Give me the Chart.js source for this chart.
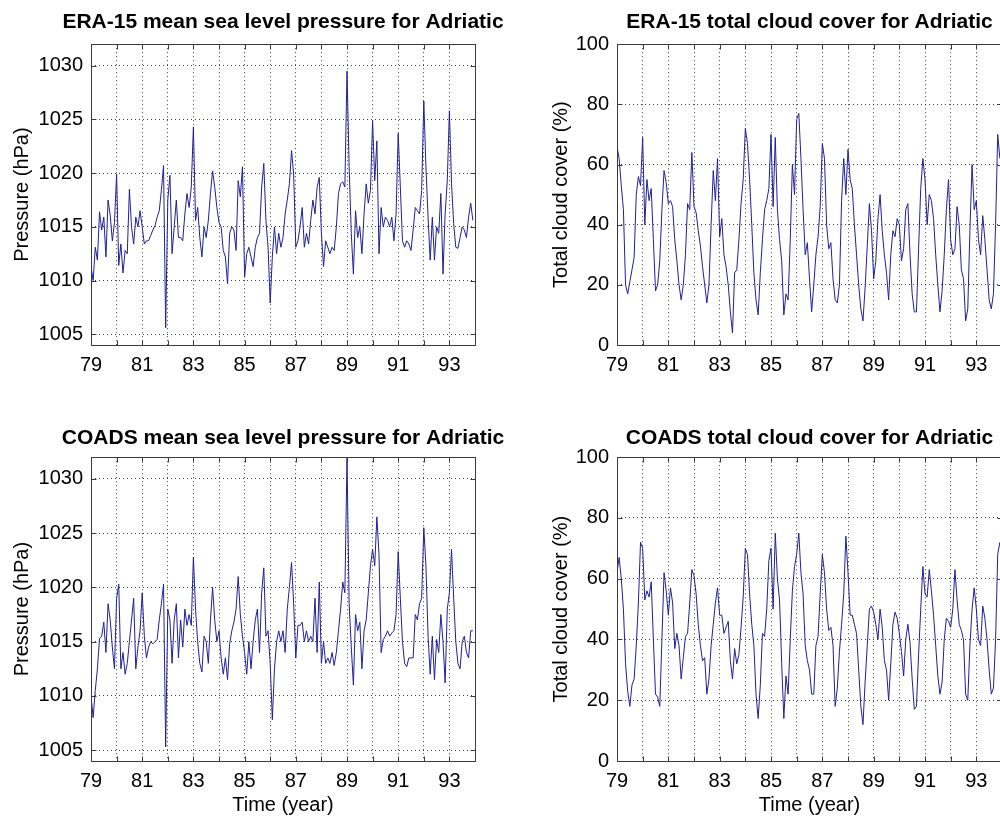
<!DOCTYPE html>
<html>
<head>
<meta charset="utf-8">
<title>Adriatic - ERA-15 / COADS</title>
<script src="https://cdn.jsdelivr.net/npm/chart.js@4.4.0/dist/chart.umd.min.js"></script>
<style>
    html, body { margin: 0; padding: 0; background: #fff; }
    body { width: 1000px; height: 821px; position: relative; overflow: hidden; }
    canvas { position: absolute; }
    #eraSlp { left: 0; top: 0; }
    #eraTcc { left: 520px; top: 0; }
    #coadsSlp { left: 0; top: 400px; }
    #coadsTcc { left: 520px; top: 400px; }
</style>
</head>
<body>
<canvas id="eraSlp" width="566" height="400"></canvas>
<canvas id="eraTcc" width="579" height="400"></canvas>
<canvas id="coadsSlp" width="566" height="421"></canvas>
<canvas id="coadsTcc" width="579" height="421"></canvas>
<script>
// monthly means, Jan 1979 .. Dec 1993
const firstYear = 79;
const monthsPerYear = 12;

const yearTicks = [79, 80, 81, 82, 83, 84, 85, 86, 87, 88, 89, 90, 91, 92, 93, 94];
const yearLabels = ['79', '81', '83', '85', '87', '89', '91', '93'];
const pressureTicks = [1005, 1010, 1015, 1020, 1025, 1030];
const cloudTicks = [0, 20, 40, 60, 80, 100];

// ERA-15 mean sea level pressure (hPa)
const eraPressure = [
    1011.3, 1010, 1013.1, 1011.9, 1016.4, 1014.7, 1015.9, 1012.2, 1017.5, 1016.1, 1013.7, 1015.4,
    1019.9, 1011.4, 1013.4, 1010.7, 1012.8, 1012.5, 1018.5, 1015, 1013.4, 1015.9, 1015, 1016.5,
    1015, 1013.4, 1013.7, 1013.7, 1014.2, 1014.7, 1015.1, 1015.9, 1016.5, 1018.4, 1020.7, 1005.6,
    1017.5, 1019.8, 1012.5, 1015, 1017.5, 1014, 1014, 1013.7, 1016.2, 1018.1, 1016.8, 1018.7,
    1024.3, 1015.6, 1016.8, 1014, 1012.2, 1015, 1014, 1015.6, 1018.1, 1020.2, 1018.7, 1016.8,
    1015.4, 1015, 1012.8, 1012.2, 1009.7, 1014.4, 1015, 1014.7, 1012.8, 1019.3, 1017.8, 1020.6,
    1010.3, 1012.5, 1013.1, 1012.2, 1011.3, 1013.1, 1014, 1014.4, 1018.7, 1020.9, 1015.6, 1013.1,
    1007.9, 1012.2, 1015, 1012.5, 1014.4, 1013.1, 1014, 1016.2, 1017.5, 1019, 1022.1, 1019.9,
    1013.1, 1013.7, 1015, 1016.8, 1013.1, 1014.4, 1013.4, 1015.6, 1017.5, 1016.2, 1018.7, 1019.6,
    1014.4, 1011.3, 1013.7, 1013.1, 1012.5, 1013.1, 1012.8, 1015, 1018.1, 1019, 1019.2, 1018.7,
    1029.5, 1020.6, 1014.4, 1010.6, 1016.5, 1014, 1015, 1012.5, 1016.2, 1019, 1017.2, 1018.4,
    1024.9, 1019.3, 1023, 1012.5, 1016.8, 1015, 1015.9, 1015.6, 1015, 1015.9, 1013.7, 1016.2,
    1023.7, 1018.7, 1013.7, 1013.1, 1013.7, 1013.4, 1012.8, 1014.7, 1016.8, 1016.5, 1016.2, 1018.4,
    1026.7, 1020.6, 1015.9, 1011.9, 1015.9, 1011.9, 1015, 1014.4, 1018.1, 1010.6, 1016.2, 1019.3,
    1025.8, 1019, 1015.3, 1013.1, 1013, 1014, 1015, 1014.7, 1014, 1015.9, 1017.2, 1015.6
];

// ERA-15 total cloud cover (%)
const eraCloud = [
    66, 62, 53, 45, 20, 17, 21, 25, 29, 50, 56, 53,
    69, 40, 55, 48, 52, 35, 18, 20, 28, 45, 58, 54,
    47, 48, 46, 35, 28, 20, 15, 20, 30, 47, 45, 64,
    46, 44, 38, 33, 26, 20, 14, 20, 40, 58, 48, 62,
    36, 42, 30, 26, 20, 11, 4, 24, 25, 35, 47, 55,
    72, 67, 55, 40, 24, 15, 10, 24, 35, 45, 48, 52,
    70, 46, 69, 45, 35, 28, 10, 17, 15, 35, 60, 50,
    75, 77, 62, 45, 30, 34, 22, 11, 20, 30, 36, 46,
    67, 62, 40, 32, 34, 22, 15, 14, 20, 48, 62, 50,
    65, 55, 52, 40, 30, 20, 12, 8, 19, 33, 47, 38,
    22, 28, 42, 50, 38, 30, 24, 15, 30, 38, 36, 42,
    40, 28, 32, 45, 47, 30, 17, 11, 11, 32, 52, 62,
    55, 40, 50, 48, 42, 30, 20, 11, 18, 30, 45, 55,
    35, 30, 32, 46, 40, 25, 22, 8, 12, 38, 60, 45,
    48, 35, 30, 43, 35, 25, 15, 12, 17, 40, 70, 62
];

// COADS mean sea level pressure (hPa)
const coadsPressure = [
    1010, 1008, 1010.5, 1012.5, 1015.3, 1015.5, 1016.8, 1014, 1018.5, 1017, 1014.5, 1012.5,
    1019, 1020.3, 1012.5, 1014, 1012, 1013, 1015, 1017, 1019, 1012.5, 1014.5, 1016,
    1019.5, 1015.5, 1013.5, 1014.5, 1015, 1014.8, 1015, 1015.2, 1017, 1018.5, 1020.3, 1005.3,
    1018, 1017, 1013, 1017, 1018.5, 1013.5, 1017, 1014.5, 1018, 1016.5, 1017.5, 1016.5,
    1022.8, 1018, 1015, 1013, 1012.2, 1015.5, 1015, 1013, 1017, 1020, 1017, 1015,
    1016, 1013.5, 1012, 1013.5, 1011.5, 1014.8, 1016, 1016.8, 1018, 1021, 1017.5, 1015.5,
    1014, 1012, 1015, 1012.5, 1015, 1017, 1018, 1014, 1019.5, 1021.8, 1015.5, 1016,
    1013, 1007.8, 1012.5, 1015, 1016, 1015, 1016, 1014, 1018, 1020, 1022.3, 1018.5,
    1013.5, 1016.5, 1016.5, 1016.8, 1015, 1016, 1015, 1015.5, 1015, 1019, 1014, 1020.5,
    1013, 1015, 1013, 1013.5, 1013, 1014, 1012.8, 1014, 1016, 1018, 1020.5, 1019.5,
    1031.9, 1018.5, 1014.5, 1011, 1017.5, 1016, 1016.8, 1012.5, 1016, 1017, 1019.5, 1022,
    1023.5, 1022, 1026.5, 1023, 1014, 1015.2, 1015.5, 1016, 1015.5, 1015.8, 1016, 1017.5,
    1023.3, 1019, 1015, 1013, 1012.7, 1013.5, 1013.5, 1013.5, 1017.5, 1017, 1018.5, 1019,
    1025.5, 1022, 1015.5, 1012, 1015.5, 1011.5, 1015.2, 1014, 1017.5, 1015, 1011.2, 1018,
    1019.5, 1023.5, 1019, 1015, 1013, 1012.5, 1015, 1015.5, 1014, 1013.5, 1016, 1016
];

// COADS total cloud cover (%)
const coadsCloud = [
    62, 67, 60, 50, 32, 23, 18, 25, 27, 38, 52, 72,
    70, 53, 56, 54, 59, 40, 22, 21, 18, 40, 62, 56,
    48, 57, 52, 37, 42, 38, 27, 34, 41, 42, 52, 63,
    61, 55, 45, 38, 33, 34, 22, 27, 38, 45, 52, 57,
    48, 48, 42, 44, 46, 33, 27, 37, 32, 35, 44, 54,
    70, 68, 55, 45, 38, 22, 14, 25, 42, 41, 50, 66,
    70, 50, 75, 60, 53, 32, 14, 28, 22, 40, 56, 64,
    68, 75, 62, 55, 38, 33, 30, 22, 22, 38, 41, 55,
    68, 62, 50, 43, 44, 38, 18, 24, 36, 45, 55, 74,
    62, 48, 48, 45, 42, 30, 18, 12, 26, 38, 50, 51,
    49, 45, 40, 50, 44, 33, 30, 20, 32, 45, 49, 47,
    42, 36, 28, 40, 45, 39, 27, 17, 18, 35, 50, 64,
    55, 54, 63, 56, 48, 38, 28, 22, 26, 40, 47, 46,
    44, 50, 63, 53, 45, 43, 40, 22, 20, 38, 50, 57,
    50, 40, 38, 51, 47, 40, 30, 22, 24, 40, 68, 72
];

const lineColor = 'rgb(32, 32, 150)';
const fontFamily = "'Liberation Sans', Arial, Helvetica, sans-serif";

// point list on the year axis
function toPoints(values) {
    return values.map((v, i) => ({ x: firstYear + i / monthsPerYear, y: v }));
}

// matlab style box round the axes with inward ticks
const boxPlugin = {
    id: 'matlabBox',
    afterDatasetsDraw(chart) {
        const { ctx, chartArea: a, scales } = chart;
        const left = Math.round(a.left) + 0.5;
        const right = Math.round(a.right) + 0.5;
        const top = Math.round(a.top) + 0.5;
        const bottom = Math.round(a.bottom) + 0.5;
        const len = 5;
        ctx.save();
        ctx.strokeStyle = '#3a3a3a';
        ctx.lineWidth = 1;
        ctx.beginPath();
        scales.x.ticks.forEach(t => {
            const px = Math.round(scales.x.getPixelForValue(t.value)) + 0.5;
            ctx.moveTo(px, bottom); ctx.lineTo(px, bottom - len);
            ctx.moveTo(px, top); ctx.lineTo(px, top + len);
        });
        scales.y.ticks.forEach(t => {
            const py = Math.round(scales.y.getPixelForValue(t.value)) + 0.5;
            ctx.moveTo(left, py); ctx.lineTo(left + len, py);
            ctx.moveTo(right, py); ctx.lineTo(right - len, py);
        });
        ctx.stroke();
        ctx.strokeRect(left, top, right - left, bottom - top);
        ctx.restore();
    }
};

function makePanel(id, cfg) {
    const canvas = document.getElementById(id);
    return new Chart(canvas, {
        type: 'line',
        data: {
            datasets: [{
                data: toPoints(cfg.values),
                borderColor: lineColor,
                borderWidth: 1,
                pointRadius: 0,
                tension: 0,
                fill: false
            }]
        },
        options: {
            responsive: false,
            animation: false,
            events: [],
            layout: { padding: 0 },
            plugins: {
                legend: { display: false },
                tooltip: { enabled: false },
                title: {
                    display: true,
                    text: cfg.title,
                    color: '#000',
                    font: { family: fontFamily, size: 21, weight: 'bold' },
                    padding: { top: cfg.titleTop, bottom: cfg.titleBottom }
                }
            },
            scales: {
                x: {
                    type: 'linear',
                    min: 79,
                    max: 94,
                    afterBuildTicks: s => { s.ticks = yearTicks.map(v => ({ value: v })); },
                    afterFit: s => { s.height = cfg.xAxisHeight; },
                    ticks: {
                        autoSkip: false,
                        maxRotation: 0,
                        padding: 8,
                        color: '#000',
                        font: { family: fontFamily, size: 20 },
                        callback: v => yearLabels.includes(String(v)) ? String(v) : ''
                    },
                    grid: { color: 'rgba(0,0,0,0.75)', lineWidth: 1, drawTicks: false },
                    border: { display: false, dash: [1, 3] },
                    title: {
                        display: !!cfg.xTitle,
                        text: cfg.xTitle || '',
                        color: '#000',
                        font: { family: fontFamily, size: 20 },
                        padding: { top: 0, bottom: 4 }
                    }
                },
                y: {
                    min: cfg.yMin,
                    max: cfg.yMax,
                    afterBuildTicks: s => { s.ticks = cfg.yTicks.map(v => ({ value: v })); },
                    afterFit: s => { s.width = cfg.yAxisWidth; },
                    ticks: {
                        padding: 8,
                        color: '#000',
                        font: { family: fontFamily, size: 20 },
                        callback: v => String(v)
                    },
                    grid: { color: 'rgba(0,0,0,0.75)', lineWidth: 1, drawTicks: false },
                    border: { display: false, dash: [1, 3] },
                    title: {
                        display: true,
                        text: cfg.yTitle,
                        color: '#000',
                        font: { family: fontFamily, size: 20 },
                        padding: { top: cfg.yTitlePad, bottom: 0 }
                    }
                },
                // empty right axis: keeps the plot narrower than the canvas so the title stays centred over it
                spacer: {
                    position: 'right',
                    afterFit: s => { s.width = cfg.rightPad; },
                    ticks: { display: false },
                    grid: { display: false },
                    border: { display: false }
                }
            }
        },
        plugins: [boxPlugin]
    });
}

makePanel('eraSlp', {
    title: 'ERA-15 mean sea level pressure for Adriatic',
    values: eraPressure, yMin: 1004, yMax: 1032, yTicks: pressureTicks,
    yTitle: 'Pressure (hPa)', yAxisWidth: 91, yTitlePad: 10,
    rightPad: 91, titleTop: 10, titleBottom: 9, xAxisHeight: 55
});

makePanel('eraTcc', {
    title: 'ERA-15 total cloud cover for Adriatic',
    values: eraCloud, yMin: 0, yMax: 100, yTicks: cloudTicks,
    yTitle: 'Total cloud cover (%)', yAxisWidth: 97, yTitlePad: 29,
    rightPad: 97, titleTop: 10, titleBottom: 9, xAxisHeight: 55
});

makePanel('coadsSlp', {
    title: 'COADS mean sea level pressure for Adriatic',
    values: coadsPressure, yMin: 1004, yMax: 1032, yTicks: pressureTicks,
    yTitle: 'Pressure (hPa)', yAxisWidth: 91, yTitlePad: 10,
    rightPad: 91, titleTop: 26, titleBottom: 6, xAxisHeight: 60,
    xTitle: 'Time (year)'
});

makePanel('coadsTcc', {
    title: 'COADS total cloud cover for Adriatic',
    values: coadsCloud, yMin: 0, yMax: 100, yTicks: cloudTicks,
    yTitle: 'Total cloud cover (%)', yAxisWidth: 97, yTitlePad: 29,
    rightPad: 97, titleTop: 26, titleBottom: 6, xAxisHeight: 60,
    xTitle: 'Time (year)'
});
</script>
</body>
</html>
